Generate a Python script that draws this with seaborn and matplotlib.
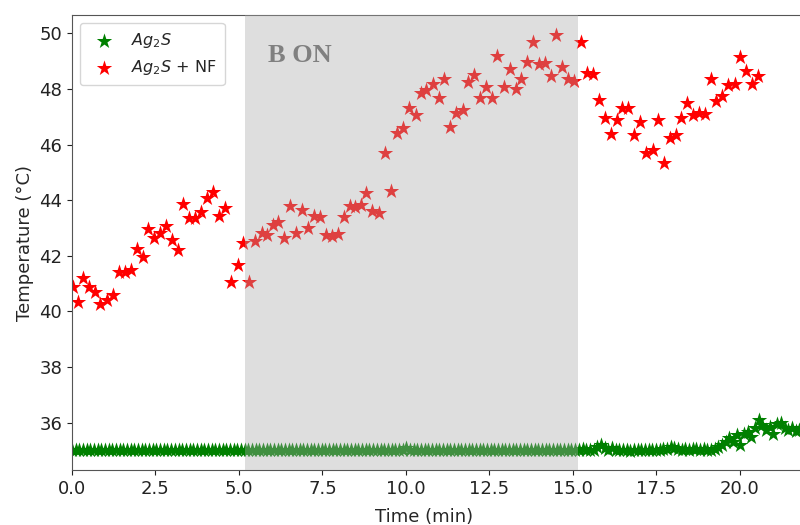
import matplotlib
matplotlib.use("Agg")
import matplotlib.pyplot as plt
import seaborn as sns

sns.set_style("ticks")
plt.rcParams["font.family"] = ["DejaVu Sans"]

# Ag2S (control) - time (min) and temperature (degC)
green_time = [
    0.00, 0.11, 0.22, 0.33, 0.44, 0.55, 0.66, 0.77, 0.88, 0.99,
    1.10, 1.21, 1.32, 1.43, 1.54, 1.65, 1.76, 1.87, 1.98, 2.09,
    2.20, 2.31, 2.42, 2.53, 2.64, 2.75, 2.86, 2.97, 3.08, 3.19,
    3.30, 3.41, 3.52, 3.63, 3.74, 3.85, 3.96, 4.07, 4.18, 4.29,
    4.40, 4.51, 4.62, 4.73, 4.84, 4.95, 5.06, 5.17, 5.28, 5.39,
    5.50, 5.61, 5.72, 5.83, 5.94, 6.05, 6.16, 6.27, 6.38, 6.49,
    6.60, 6.71, 6.82, 6.93, 7.04, 7.15, 7.26, 7.37, 7.48, 7.59,
    7.70, 7.81, 7.92, 8.03, 8.14, 8.25, 8.36, 8.47, 8.58, 8.69,
    8.80, 8.91, 9.02, 9.13, 9.24, 9.35, 9.46, 9.57, 9.68, 9.79,
    9.90, 10.01, 10.12, 10.23, 10.34, 10.45, 10.56, 10.67, 10.78, 10.89,
    11.00, 11.11, 11.22, 11.33, 11.44, 11.55, 11.66, 11.77, 11.88, 11.99,
    12.10, 12.21, 12.32, 12.43, 12.54, 12.65, 12.76, 12.87, 12.98, 13.09,
    13.20, 13.31, 13.42, 13.53, 13.64, 13.75, 13.86, 13.97, 14.08, 14.19,
    14.30, 14.41, 14.52, 14.63, 14.74, 14.85, 14.96, 15.07, 15.18, 15.29,
    15.40, 15.51, 15.62, 15.73, 15.84, 15.95, 16.06, 16.17, 16.28, 16.39,
    16.50, 16.61, 16.72, 16.83, 16.94, 17.05, 17.16, 17.27, 17.38, 17.49,
    17.60, 17.71, 17.82, 17.93, 18.04, 18.15, 18.26, 18.37, 18.48, 18.59,
    18.70, 18.81, 18.92, 19.03, 19.14, 19.25, 19.36, 19.47, 19.58, 19.69,
    19.80, 19.91, 20.02, 20.13, 20.24, 20.35, 20.46, 20.57, 20.68, 20.79,
    20.90, 21.01, 21.12, 21.23, 21.34, 21.45, 21.56, 21.67, 21.78,
]
green_temp = [
    35.0, 35.0, 35.0, 35.0, 35.0, 35.0, 35.0, 35.0, 35.0, 35.0,
    35.0, 35.0, 35.0, 35.0, 35.0, 35.0, 35.0, 35.0, 35.0, 35.0,
    35.0, 35.0, 35.0, 35.0, 35.0, 35.0, 35.0, 35.0, 35.0, 35.0,
    35.0, 35.0, 35.0, 35.0, 35.0, 35.0, 35.0, 35.0, 35.0, 35.0,
    35.0, 35.0, 35.0, 35.0, 35.0, 35.0, 35.0, 35.0, 35.0, 35.0,
    35.0, 35.0, 35.02, 35.0, 35.0, 35.0, 35.02, 35.0, 35.0, 35.0,
    35.0, 35.02, 35.0, 35.0, 35.0, 35.0, 35.0, 35.02, 35.0, 35.0,
    35.0, 35.0, 35.0, 35.0, 35.0, 35.02, 35.0, 35.0, 35.0, 35.0,
    35.03, 35.0, 35.0, 35.0, 35.0, 35.0, 35.02, 35.0, 35.0, 35.0,
    35.0, 35.08, 35.0, 35.0, 35.0, 35.0, 35.0, 35.0, 35.0, 35.0,
    35.0, 35.0, 35.0, 35.0, 35.0, 35.02, 35.0, 35.0, 35.0, 35.0,
    35.0, 35.0, 35.0, 35.03, 35.0, 35.0, 35.0, 35.0, 35.0, 35.0,
    35.0, 35.0, 35.0, 35.0, 35.0, 35.0, 35.02, 35.0, 35.0, 35.0,
    35.0, 35.0, 35.0, 35.0, 35.0, 35.0, 35.0, 35.0, 35.02, 35.05,
    35.0, 35.03, 35.0, 35.12, 35.18, 35.1, 35.0, 35.08, 35.02, 35.0,
    35.0, 35.0, 34.98, 35.0, 35.0, 35.0, 35.02, 35.0, 35.03, 35.0,
    35.02, 35.06, 35.05, 35.14, 35.1, 35.04, 35.02, 35.05, 35.02, 35.04,
    35.05, 35.02, 35.04, 35.03, 35.0, 35.06, 35.12, 35.2, 35.3, 35.45,
    35.3, 35.55, 35.2, 35.6, 35.65, 35.5, 35.8, 36.1, 35.9, 35.75,
    35.85, 35.6, 35.95, 36.0, 35.8, 35.75, 35.8, 35.7, 35.75,
]

# Ag2S + NF - time (min) and temperature (degC)
red_time = [
    0.04, 0.19, 0.34, 0.52, 0.69, 0.84, 1.04, 1.22, 1.42, 1.59,
    1.76, 1.94, 2.12, 2.29, 2.46, 2.63, 2.81, 3.01, 3.16, 3.33,
    3.51, 3.68, 3.85, 4.03, 4.21, 4.41, 4.58, 4.76, 4.96, 5.11,
    5.31, 5.48, 5.68, 5.85, 6.01, 6.18, 6.35, 6.53, 6.71, 6.89,
    7.07, 7.25, 7.43, 7.60, 7.78, 7.97, 8.14, 8.32, 8.49, 8.66,
    8.82, 9.00, 9.20, 9.37, 9.55, 9.72, 9.90, 10.10, 10.29, 10.45,
    10.60, 10.80, 11.00, 11.14, 11.32, 11.50, 11.70, 11.87, 12.04, 12.22,
    12.40, 12.57, 12.74, 12.94, 13.11, 13.29, 13.46, 13.64, 13.81, 13.99,
    14.16, 14.34, 14.51, 14.69, 14.86, 15.04, 15.24, 15.41, 15.59, 15.79,
    15.96, 16.13, 16.31, 16.46, 16.66, 16.83, 17.01, 17.19, 17.39, 17.56,
    17.72, 17.90, 18.08, 18.25, 18.43, 18.60, 18.78, 18.95, 19.13, 19.30,
    19.48, 19.65, 19.85, 20.02, 20.20, 20.38, 20.55,
]
red_temp = [
    40.89, 40.32, 41.19, 40.89, 40.71, 40.27, 40.41, 40.59, 41.43, 41.43,
    41.47, 42.23, 41.95, 42.95, 42.63, 42.81, 43.07, 42.57, 42.21, 43.86,
    43.35, 43.35, 43.58, 44.09, 44.30, 43.43, 43.70, 41.07, 41.67, 42.45,
    41.07, 42.54, 42.81, 42.75, 43.11, 43.23, 42.63, 43.79, 42.83, 43.64,
    42.99, 43.43, 43.38, 42.75, 42.71, 42.77, 43.40, 43.79, 43.74, 43.82,
    44.24, 43.62, 43.55, 45.68, 44.34, 46.40, 46.58, 47.30, 47.06, 47.85,
    47.95, 48.17, 47.69, 48.34, 46.64, 47.14, 47.24, 48.25, 48.49, 47.69,
    48.07, 47.69, 49.17, 48.07, 48.70, 48.01, 48.37, 48.97, 49.69, 48.91,
    48.93, 48.46, 49.93, 48.79, 48.37, 48.29, 49.69, 48.58, 48.55, 47.59,
    46.97, 46.37, 46.88, 47.33, 47.30, 46.34, 46.81, 45.70, 45.82, 46.88,
    45.34, 46.22, 46.34, 46.97, 47.50, 47.06, 47.14, 47.09, 48.34, 47.57,
    47.74, 48.13, 48.17, 49.15, 48.65, 48.17, 48.46,
]

field_on = (5.18, 15.15)

fig = plt.figure(figsize=(8, 5.25), dpi=100)
ax = fig.add_axes([0.09, 0.105, 0.914, 0.866])

sns.scatterplot(x=green_time, y=green_temp, marker="*", s=135, color="green",
                linewidth=0, label="$Ag_2S$", ax=ax, zorder=2)
sns.scatterplot(x=red_time, y=red_temp, marker="*", s=135, color="red",
                linewidth=0, label="$Ag_2S$ + NF", ax=ax, zorder=2)

# shaded region drawn over the points, as in the original
ax.axvspan(*field_on, color="#a9a9a9", alpha=0.38, linewidth=0, zorder=3)
ax.text(5.87, 48.96, "B ON", family="Liberation Serif", fontweight="bold",
        fontsize=19, color="#808080", ha="left", va="baseline", zorder=4)

ax.set_xlim(0, 21.9)
ax.set_ylim(34.3, 50.65)
ax.set_yticks([36, 38, 40, 42, 44, 46, 48, 50])
ax.set_xticks([0, 2.5, 5, 7.5, 10, 12.5, 15, 17.5, 20])
ax.tick_params(labelsize=13, colors="#222222")
ax.set_xlabel("Time (min)", fontsize=13)
ax.set_ylabel("Temperature (°C)", fontsize=13)
ax.xaxis.set_label_coords(0.481, -0.083)
for side in ["top", "right", "left", "bottom"]:
    ax.spines[side].set_visible(True)
    ax.spines[side].set_color("#555555")

ax.legend(loc="upper left", fontsize=11.5, frameon=True, borderpad=0.5,
          handletextpad=0.7, bbox_to_anchor=(0.0, 1.0))

fig.savefig("out.png", dpi=100)
